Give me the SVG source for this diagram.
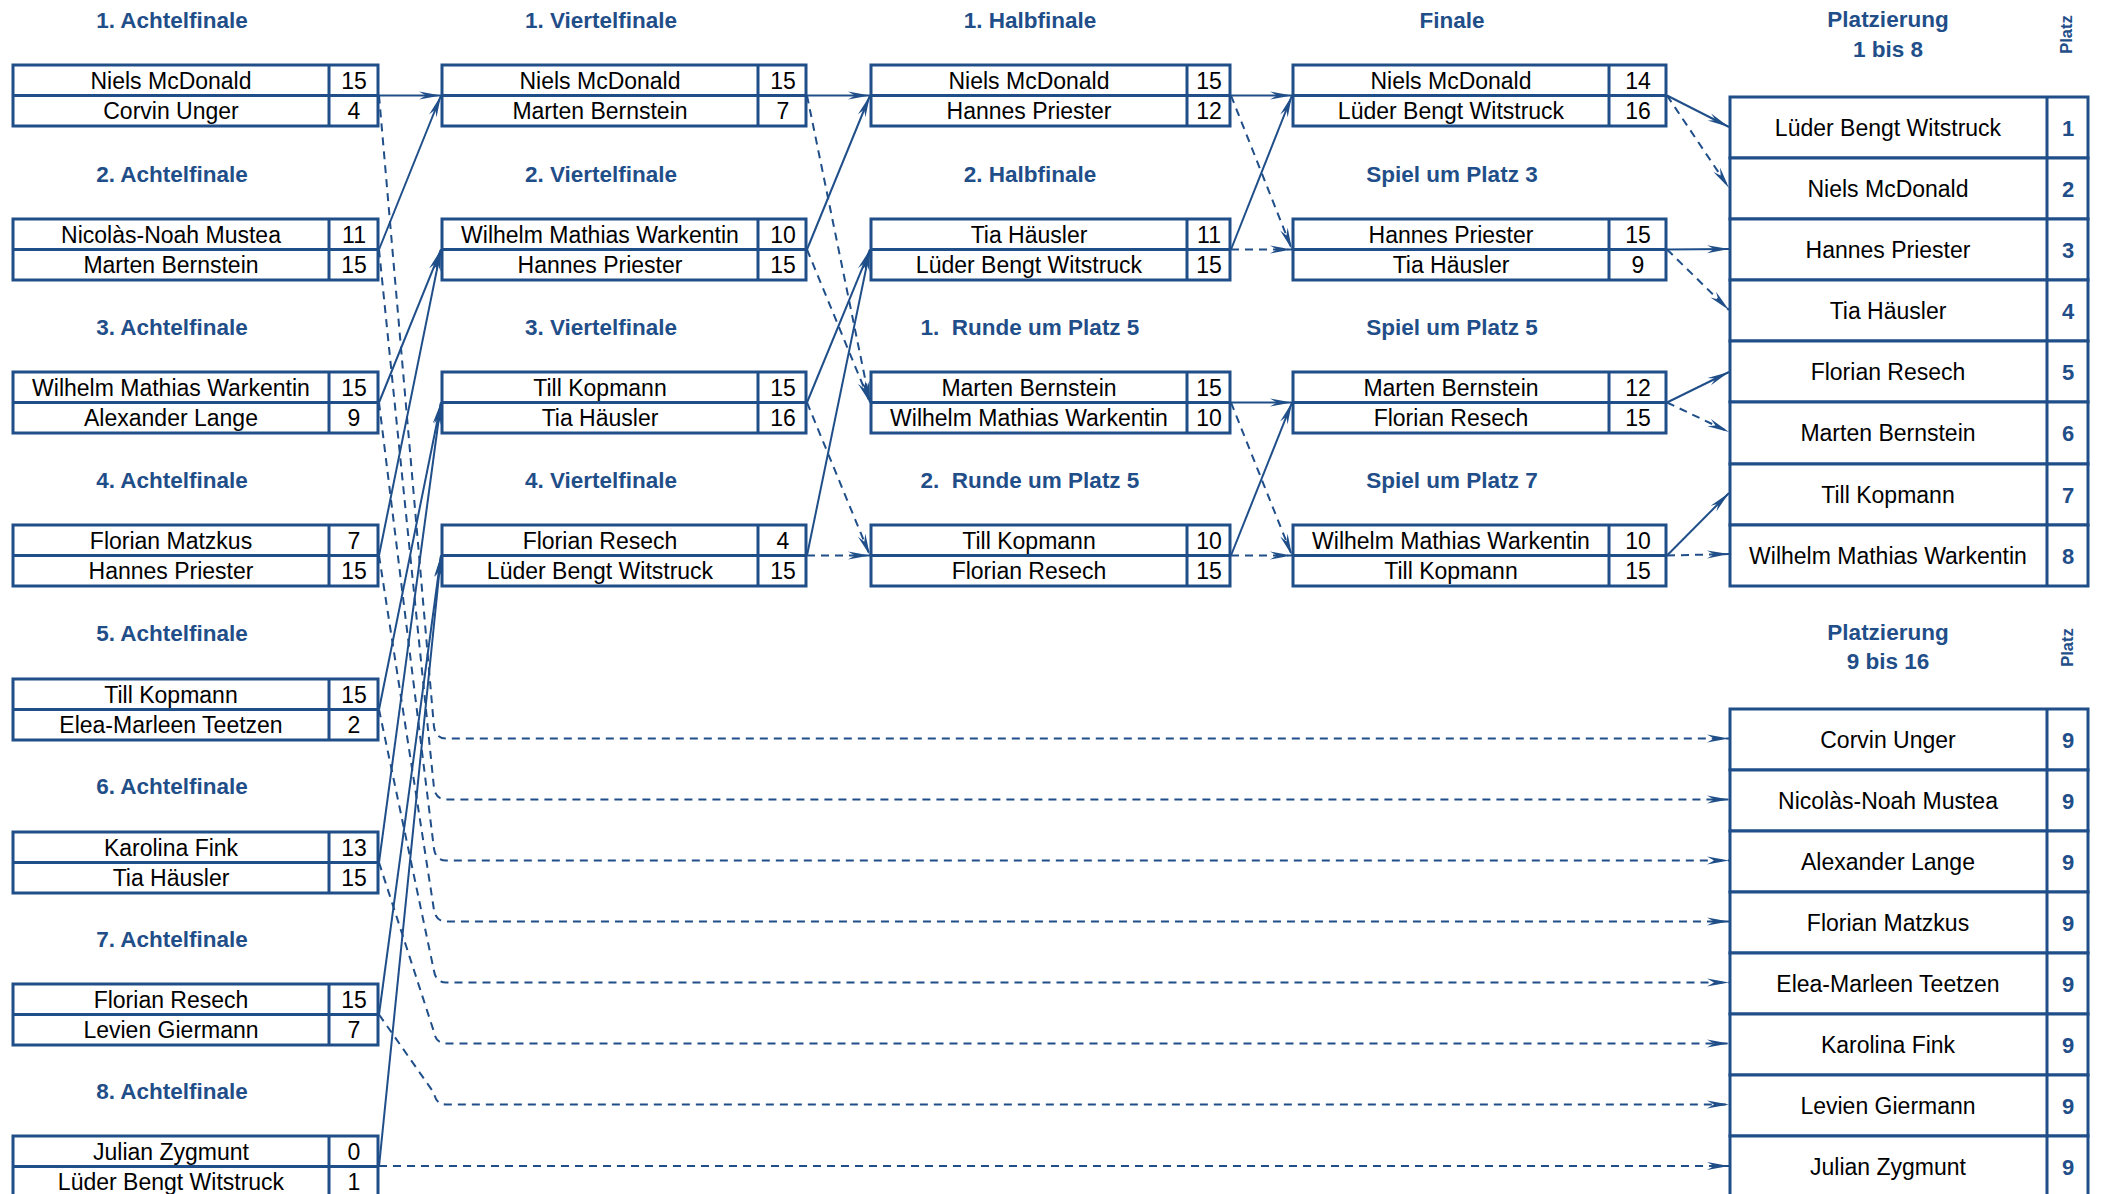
<svg xmlns="http://www.w3.org/2000/svg" width="2101" height="1194" viewBox="0 0 2101 1194">
<style>
.bx{fill:#fff;stroke:#1f4e89;stroke-width:3}
.dv{stroke:#1f4e89;stroke-width:3}
.nm{font-family:"Liberation Sans",Arial,sans-serif;font-size:23px;fill:#000;text-anchor:middle}
.tt{font-family:"Liberation Sans",Arial,sans-serif;font-size:22.5px;font-weight:bold;fill:#1f4e89;text-anchor:middle}
.pl{font-family:"Liberation Sans",Arial,sans-serif;font-size:22px;font-weight:bold;fill:#1f4e89;text-anchor:middle}
.pz{font-family:"Liberation Sans",Arial,sans-serif;font-size:16.5px;font-weight:bold;fill:#1f4e89;text-anchor:middle}
.w{stroke:#1f4e89;stroke-width:2;fill:none;marker-end:url(#ar)}
.l{stroke:#1f4e89;stroke-width:2;fill:none;stroke-dasharray:8 6;marker-end:url(#ar)}
</style>
<defs>
<marker id="ar" markerUnits="userSpaceOnUse" markerWidth="24" markerHeight="10" viewBox="0 0 24 10" refX="22" refY="5" orient="auto">
<path d="M0,1 L22,5 L0,9 L7,5 Z" fill="#1f4e89"/>
</marker>
</defs>
<rect width="2101" height="1194" fill="#fff"/>

<!-- Titles -->
<g id="titles">
<text class="tt" x="172" y="27.5">1. Achtelfinale</text>
<text class="tt" x="172" y="182">2. Achtelfinale</text>
<text class="tt" x="172" y="335">3. Achtelfinale</text>
<text class="tt" x="172" y="488">4. Achtelfinale</text>
<text class="tt" x="172" y="641">5. Achtelfinale</text>
<text class="tt" x="172" y="794">6. Achtelfinale</text>
<text class="tt" x="172" y="946.5">7. Achtelfinale</text>
<text class="tt" x="172" y="1099">8. Achtelfinale</text>
<text class="tt" x="601" y="27.5">1. Viertelfinale</text>
<text class="tt" x="601" y="182">2. Viertelfinale</text>
<text class="tt" x="601" y="335">3. Viertelfinale</text>
<text class="tt" x="601" y="488">4. Viertelfinale</text>
<text class="tt" x="1030" y="27.5">1. Halbfinale</text>
<text class="tt" x="1030" y="182">2. Halbfinale</text>
<text class="tt" x="1030" y="335" xml:space="preserve">1.  Runde um Platz 5</text>
<text class="tt" x="1030" y="488" xml:space="preserve">2.  Runde um Platz 5</text>
<text class="tt" x="1452" y="27.5">Finale</text>
<text class="tt" x="1452" y="182">Spiel um Platz 3</text>
<text class="tt" x="1452" y="335">Spiel um Platz 5</text>
<text class="tt" x="1452" y="488">Spiel um Platz 7</text>
<text class="tt" x="1888" y="27">Platzierung</text>
<text class="tt" x="1888" y="57">1 bis 8</text>
<text class="pz" transform="translate(2072,34.5) rotate(-90)">Platz</text>
<text class="tt" x="1888" y="640">Platzierung</text>
<text class="tt" x="1888" y="669">9 bis 16</text>
<text class="pz" transform="translate(2073,647.5) rotate(-90)">Platz</text>
</g>

<!-- Achtelfinale -->
<g id="af1"><rect class="bx" x="13" y="65" width="365" height="61"/><line class="dv" x1="13" y1="95.5" x2="378" y2="95.5"/><line class="dv" x1="329" y1="65" x2="329" y2="126"/><text class="nm" x="171" y="88.5">Niels McDonald</text><text class="nm" x="354" y="88.5">15</text><text class="nm" x="171" y="119">Corvin Unger</text><text class="nm" x="354" y="119">4</text></g>
<g id="af2"><rect class="bx" x="13" y="219" width="365" height="61"/><line class="dv" x1="13" y1="249.5" x2="378" y2="249.5"/><line class="dv" x1="329" y1="219" x2="329" y2="280"/><text class="nm" x="171" y="242.5">Nicolàs-Noah Mustea</text><text class="nm" x="354" y="242.5">11</text><text class="nm" x="171" y="273">Marten Bernstein</text><text class="nm" x="354" y="273">15</text></g>
<g id="af3"><rect class="bx" x="13" y="372" width="365" height="61"/><line class="dv" x1="13" y1="402.5" x2="378" y2="402.5"/><line class="dv" x1="329" y1="372" x2="329" y2="433"/><text class="nm" x="171" y="395.5">Wilhelm Mathias Warkentin</text><text class="nm" x="354" y="395.5">15</text><text class="nm" x="171" y="426">Alexander Lange</text><text class="nm" x="354" y="426">9</text></g>
<g id="af4"><rect class="bx" x="13" y="525" width="365" height="61"/><line class="dv" x1="13" y1="555.5" x2="378" y2="555.5"/><line class="dv" x1="329" y1="525" x2="329" y2="586"/><text class="nm" x="171" y="548.5">Florian Matzkus</text><text class="nm" x="354" y="548.5">7</text><text class="nm" x="171" y="579">Hannes Priester</text><text class="nm" x="354" y="579">15</text></g>
<g id="af5"><rect class="bx" x="13" y="679" width="365" height="61"/><line class="dv" x1="13" y1="709.5" x2="378" y2="709.5"/><line class="dv" x1="329" y1="679" x2="329" y2="740"/><text class="nm" x="171" y="702.5">Till Kopmann</text><text class="nm" x="354" y="702.5">15</text><text class="nm" x="171" y="733">Elea-Marleen Teetzen</text><text class="nm" x="354" y="733">2</text></g>
<g id="af6"><rect class="bx" x="13" y="832" width="365" height="61"/><line class="dv" x1="13" y1="862.5" x2="378" y2="862.5"/><line class="dv" x1="329" y1="832" x2="329" y2="893"/><text class="nm" x="171" y="855.5">Karolina Fink</text><text class="nm" x="354" y="855.5">13</text><text class="nm" x="171" y="886">Tia Häusler</text><text class="nm" x="354" y="886">15</text></g>
<g id="af7"><rect class="bx" x="13" y="984" width="365" height="61"/><line class="dv" x1="13" y1="1014.5" x2="378" y2="1014.5"/><line class="dv" x1="329" y1="984" x2="329" y2="1045"/><text class="nm" x="171" y="1007.5">Florian Resech</text><text class="nm" x="354" y="1007.5">15</text><text class="nm" x="171" y="1038">Levien Giermann</text><text class="nm" x="354" y="1038">7</text></g>
<g id="af8"><rect class="bx" x="13" y="1136" width="365" height="61"/><line class="dv" x1="13" y1="1166.5" x2="378" y2="1166.5"/><line class="dv" x1="329" y1="1136" x2="329" y2="1197"/><text class="nm" x="171" y="1159.5">Julian Zygmunt</text><text class="nm" x="354" y="1159.5">0</text><text class="nm" x="171" y="1190">Lüder Bengt Witstruck</text><text class="nm" x="354" y="1190">1</text></g>

<!-- Viertelfinale -->
<g id="vf1"><rect class="bx" x="442" y="65" width="364" height="61"/><line class="dv" x1="442" y1="95.5" x2="806" y2="95.5"/><line class="dv" x1="758" y1="65" x2="758" y2="126"/><text class="nm" x="600" y="88.5">Niels McDonald</text><text class="nm" x="783" y="88.5">15</text><text class="nm" x="600" y="119">Marten Bernstein</text><text class="nm" x="783" y="119">7</text></g>
<g id="vf2"><rect class="bx" x="442" y="219" width="364" height="61"/><line class="dv" x1="442" y1="249.5" x2="806" y2="249.5"/><line class="dv" x1="758" y1="219" x2="758" y2="280"/><text class="nm" x="600" y="242.5">Wilhelm Mathias Warkentin</text><text class="nm" x="783" y="242.5">10</text><text class="nm" x="600" y="273">Hannes Priester</text><text class="nm" x="783" y="273">15</text></g>
<g id="vf3"><rect class="bx" x="442" y="372" width="364" height="61"/><line class="dv" x1="442" y1="402.5" x2="806" y2="402.5"/><line class="dv" x1="758" y1="372" x2="758" y2="433"/><text class="nm" x="600" y="395.5">Till Kopmann</text><text class="nm" x="783" y="395.5">15</text><text class="nm" x="600" y="426">Tia Häusler</text><text class="nm" x="783" y="426">16</text></g>
<g id="vf4"><rect class="bx" x="442" y="525" width="364" height="61"/><line class="dv" x1="442" y1="555.5" x2="806" y2="555.5"/><line class="dv" x1="758" y1="525" x2="758" y2="586"/><text class="nm" x="600" y="548.5">Florian Resech</text><text class="nm" x="783" y="548.5">4</text><text class="nm" x="600" y="579">Lüder Bengt Witstruck</text><text class="nm" x="783" y="579">15</text></g>

<!-- Halbfinale / Runde um Platz 5 -->
<g id="hf1"><rect class="bx" x="871" y="65" width="359" height="61"/><line class="dv" x1="871" y1="95.5" x2="1230" y2="95.5"/><line class="dv" x1="1187" y1="65" x2="1187" y2="126"/><text class="nm" x="1029" y="88.5">Niels McDonald</text><text class="nm" x="1209" y="88.5">15</text><text class="nm" x="1029" y="119">Hannes Priester</text><text class="nm" x="1209" y="119">12</text></g>
<g id="hf2"><rect class="bx" x="871" y="219" width="359" height="61"/><line class="dv" x1="871" y1="249.5" x2="1230" y2="249.5"/><line class="dv" x1="1187" y1="219" x2="1187" y2="280"/><text class="nm" x="1029" y="242.5">Tia Häusler</text><text class="nm" x="1209" y="242.5">11</text><text class="nm" x="1029" y="273">Lüder Bengt Witstruck</text><text class="nm" x="1209" y="273">15</text></g>
<g id="r1p5"><rect class="bx" x="871" y="372" width="359" height="61"/><line class="dv" x1="871" y1="402.5" x2="1230" y2="402.5"/><line class="dv" x1="1187" y1="372" x2="1187" y2="433"/><text class="nm" x="1029" y="395.5">Marten Bernstein</text><text class="nm" x="1209" y="395.5">15</text><text class="nm" x="1029" y="426">Wilhelm Mathias Warkentin</text><text class="nm" x="1209" y="426">10</text></g>
<g id="r2p5"><rect class="bx" x="871" y="525" width="359" height="61"/><line class="dv" x1="871" y1="555.5" x2="1230" y2="555.5"/><line class="dv" x1="1187" y1="525" x2="1187" y2="586"/><text class="nm" x="1029" y="548.5">Till Kopmann</text><text class="nm" x="1209" y="548.5">10</text><text class="nm" x="1029" y="579">Florian Resech</text><text class="nm" x="1209" y="579">15</text></g>

<!-- Finale / Spiele um Plätze -->
<g id="fin"><rect class="bx" x="1293" y="65" width="373" height="61"/><line class="dv" x1="1293" y1="95.5" x2="1666" y2="95.5"/><line class="dv" x1="1609" y1="65" x2="1609" y2="126"/><text class="nm" x="1451" y="88.5">Niels McDonald</text><text class="nm" x="1638" y="88.5">14</text><text class="nm" x="1451" y="119">Lüder Bengt Witstruck</text><text class="nm" x="1638" y="119">16</text></g>
<g id="p3"><rect class="bx" x="1293" y="219" width="373" height="61"/><line class="dv" x1="1293" y1="249.5" x2="1666" y2="249.5"/><line class="dv" x1="1609" y1="219" x2="1609" y2="280"/><text class="nm" x="1451" y="242.5">Hannes Priester</text><text class="nm" x="1638" y="242.5">15</text><text class="nm" x="1451" y="273">Tia Häusler</text><text class="nm" x="1638" y="273">9</text></g>
<g id="p5"><rect class="bx" x="1293" y="372" width="373" height="61"/><line class="dv" x1="1293" y1="402.5" x2="1666" y2="402.5"/><line class="dv" x1="1609" y1="372" x2="1609" y2="433"/><text class="nm" x="1451" y="395.5">Marten Bernstein</text><text class="nm" x="1638" y="395.5">12</text><text class="nm" x="1451" y="426">Florian Resech</text><text class="nm" x="1638" y="426">15</text></g>
<g id="p7"><rect class="bx" x="1293" y="525" width="373" height="61"/><line class="dv" x1="1293" y1="555.5" x2="1666" y2="555.5"/><line class="dv" x1="1609" y1="525" x2="1609" y2="586"/><text class="nm" x="1451" y="548.5">Wilhelm Mathias Warkentin</text><text class="nm" x="1638" y="548.5">10</text><text class="nm" x="1451" y="579">Till Kopmann</text><text class="nm" x="1638" y="579">15</text></g>

<!-- Platzierung 1 bis 8 -->
<g id="rank1"><rect class="bx" x="1730" y="97" width="358" height="61"/><line class="dv" x1="2047" y1="97" x2="2047" y2="158"/><text class="nm" x="1888" y="135.5">Lüder Bengt Witstruck</text><text class="pl" x="2068" y="135.5">1</text></g>
<g id="rank2"><rect class="bx" x="1730" y="158" width="358" height="61"/><line class="dv" x1="2047" y1="158" x2="2047" y2="219"/><text class="nm" x="1888" y="196.5">Niels McDonald</text><text class="pl" x="2068" y="196.5">2</text></g>
<g id="rank3"><rect class="bx" x="1730" y="219" width="358" height="61"/><line class="dv" x1="2047" y1="219" x2="2047" y2="280"/><text class="nm" x="1888" y="257.5">Hannes Priester</text><text class="pl" x="2068" y="257.5">3</text></g>
<g id="rank4"><rect class="bx" x="1730" y="280" width="358" height="61"/><line class="dv" x1="2047" y1="280" x2="2047" y2="341"/><text class="nm" x="1888" y="318.5">Tia Häusler</text><text class="pl" x="2068" y="318.5">4</text></g>
<g id="rank5"><rect class="bx" x="1730" y="341" width="358" height="61"/><line class="dv" x1="2047" y1="341" x2="2047" y2="402"/><text class="nm" x="1888" y="379.5">Florian Resech</text><text class="pl" x="2068" y="379.5">5</text></g>
<g id="rank6"><rect class="bx" x="1730" y="402" width="358" height="62"/><line class="dv" x1="2047" y1="402" x2="2047" y2="464"/><text class="nm" x="1888" y="441">Marten Bernstein</text><text class="pl" x="2068" y="441">6</text></g>
<g id="rank7"><rect class="bx" x="1730" y="464" width="358" height="61"/><line class="dv" x1="2047" y1="464" x2="2047" y2="525"/><text class="nm" x="1888" y="502.5">Till Kopmann</text><text class="pl" x="2068" y="502.5">7</text></g>
<g id="rank8"><rect class="bx" x="1730" y="525" width="358" height="61"/><line class="dv" x1="2047" y1="525" x2="2047" y2="586"/><text class="nm" x="1888" y="563.5">Wilhelm Mathias Warkentin</text><text class="pl" x="2068" y="563.5">8</text></g>

<!-- Platzierung 9 bis 16 -->
<g id="rank9a"><rect class="bx" x="1730" y="709" width="358" height="61"/><line class="dv" x1="2047" y1="709" x2="2047" y2="770"/><text class="nm" x="1888" y="747.5">Corvin Unger</text><text class="pl" x="2068" y="747.5">9</text></g>
<g id="rank9b"><rect class="bx" x="1730" y="770" width="358" height="61"/><line class="dv" x1="2047" y1="770" x2="2047" y2="831"/><text class="nm" x="1888" y="808.5">Nicolàs-Noah Mustea</text><text class="pl" x="2068" y="808.5">9</text></g>
<g id="rank9c"><rect class="bx" x="1730" y="831" width="358" height="61"/><line class="dv" x1="2047" y1="831" x2="2047" y2="892"/><text class="nm" x="1888" y="869.5">Alexander Lange</text><text class="pl" x="2068" y="869.5">9</text></g>
<g id="rank9d"><rect class="bx" x="1730" y="892" width="358" height="61"/><line class="dv" x1="2047" y1="892" x2="2047" y2="953"/><text class="nm" x="1888" y="930.5">Florian Matzkus</text><text class="pl" x="2068" y="930.5">9</text></g>
<g id="rank9e"><rect class="bx" x="1730" y="953" width="358" height="61"/><line class="dv" x1="2047" y1="953" x2="2047" y2="1014"/><text class="nm" x="1888" y="991.5">Elea-Marleen Teetzen</text><text class="pl" x="2068" y="991.5">9</text></g>
<g id="rank9f"><rect class="bx" x="1730" y="1014" width="358" height="61"/><line class="dv" x1="2047" y1="1014" x2="2047" y2="1075"/><text class="nm" x="1888" y="1052.5">Karolina Fink</text><text class="pl" x="2068" y="1052.5">9</text></g>
<g id="rank9g"><rect class="bx" x="1730" y="1075" width="358" height="61"/><line class="dv" x1="2047" y1="1075" x2="2047" y2="1136"/><text class="nm" x="1888" y="1113.5">Levien Giermann</text><text class="pl" x="2068" y="1113.5">9</text></g>
<g id="rank9h"><rect class="bx" x="1730" y="1136" width="358" height="64"/><line class="dv" x1="2047" y1="1136" x2="2047" y2="1200"/><text class="nm" x="1888" y="1174.5">Julian Zygmunt</text><text class="pl" x="2068" y="1174.5">9</text></g>

<!-- Connectors -->
<g id="connectors">
<line class="w" x1="379" y1="95.5" x2="441" y2="95.5"/>
<line class="w" x1="379" y1="249.5" x2="441" y2="95.5"/>
<line class="w" x1="379" y1="402.5" x2="441" y2="249.5"/>
<line class="w" x1="379" y1="555.5" x2="441" y2="249.5"/>
<line class="w" x1="379" y1="709.5" x2="441" y2="402.5"/>
<line class="w" x1="379" y1="862.5" x2="441" y2="402.5"/>
<line class="w" x1="379" y1="1014.5" x2="441" y2="555.5"/>
<line class="w" x1="379" y1="1166.5" x2="441" y2="555.5"/>

<path class="l" d="M379,95.5 L434,727 Q436,738.5 446,738.5 L1729,738.5"/>
<path class="l" d="M379,249.5 L434,788 Q436,799.5 446,799.5 L1729,799.5"/>
<path class="l" d="M379,402.5 L434,849 Q436,860.5 446,860.5 L1729,860.5"/>
<path class="l" d="M379,555.5 L434,910 Q436,921.5 446,921.5 L1729,921.5"/>
<path class="l" d="M379,709.5 L434,971 Q436,982.5 446,982.5 L1729,982.5"/>
<path class="l" d="M379,862.5 L434,1032 Q436,1043.5 446,1043.5 L1729,1043.5"/>
<path class="l" d="M379,1014.5 L434,1093 Q436,1104.5 446,1104.5 L1729,1104.5"/>
<path class="l" d="M379,1166 L1729,1166"/>

<line class="w" x1="807" y1="95.5" x2="870" y2="95.5"/>
<line class="l" x1="807" y1="95.5" x2="870" y2="402.5"/>
<line class="w" x1="807" y1="249.5" x2="870" y2="95.5"/>
<line class="l" x1="807" y1="249.5" x2="870" y2="402.5"/>
<line class="w" x1="807" y1="402.5" x2="870" y2="249.5"/>
<line class="l" x1="807" y1="402.5" x2="870" y2="555.5"/>
<line class="w" x1="807" y1="555.5" x2="870" y2="249.5"/>
<line class="l" x1="807" y1="555.5" x2="870" y2="555.5"/>

<line class="w" x1="1231" y1="95.5" x2="1292" y2="95.5"/>
<line class="l" x1="1231" y1="95.5" x2="1292" y2="249.5"/>
<line class="w" x1="1231" y1="249.5" x2="1292" y2="95.5"/>
<line class="l" x1="1231" y1="249.5" x2="1292" y2="249.5"/>
<line class="w" x1="1231" y1="402.5" x2="1292" y2="402.5"/>
<line class="l" x1="1231" y1="402.5" x2="1292" y2="555.5"/>
<line class="w" x1="1231" y1="555.5" x2="1292" y2="402.5"/>
<line class="l" x1="1231" y1="555.5" x2="1292" y2="555.5"/>

<line class="w" x1="1667" y1="95.5" x2="1729" y2="127"/>
<line class="l" x1="1667" y1="95.5" x2="1729" y2="188"/>
<line class="w" x1="1667" y1="249.5" x2="1729" y2="249"/>
<line class="l" x1="1667" y1="249.5" x2="1729" y2="310"/>
<line class="w" x1="1667" y1="402.5" x2="1729" y2="372"/>
<line class="l" x1="1667" y1="402.5" x2="1729" y2="432"/>
<line class="w" x1="1667" y1="555.5" x2="1729" y2="493"/>
<line class="l" x1="1667" y1="555.5" x2="1729" y2="554"/>
</g>
</svg>
